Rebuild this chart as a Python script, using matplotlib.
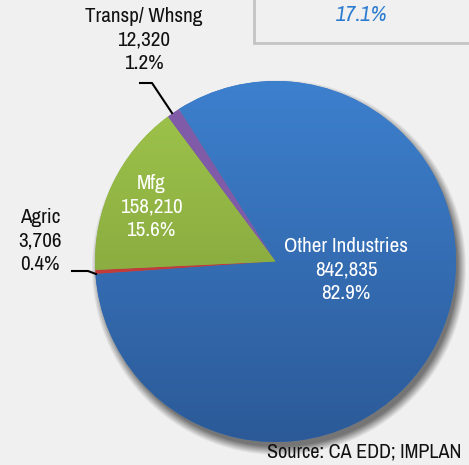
import numpy as np
import matplotlib
matplotlib.use("Agg")
import matplotlib.pyplot as plt
from matplotlib.colors import LinearSegmentedColormap
from matplotlib.patches import Rectangle

plt.rcParams['font.family'] = ['Archivo Narrow', 'Roboto Condensed', 'DejaVu Sans']

# employment by industry
industries = ["Other Industries", "Transp/ Whsng", "Mfg", "Agric"]
jobs = [842835, 12320, 158210, 3706]
shares = ["82.9%", "1.2%", "15.6%", "0.4%"]
highlight = "17.1%"
source = "Source: CA EDD; IMPLAN"

W, H = 469, 465
BG = "#f0f0f0"

fig = plt.figure(figsize=(W / 100, H / 100), dpi=100, facecolor=BG)
ax = fig.add_axes([0, 0, 1, 1])

cx, cy, r = 275.5, H - 261.5, 180.5

# soft drop shadow under the pie
yy, xx = np.mgrid[0:H, 0:W]
d = np.hypot(xx - (cx + 3), (H - yy) - (cy - 6))
a = np.clip((r + 7 - d) / 9.0, 0, 1) * 0.75
shadow = np.zeros((H, W, 4))
shadow[..., :3] = 0.3
shadow[..., 3] = a
ax.imshow(shadow, extent=[0, W, 0, H], zorder=1, interpolation="bilinear")

wedges, _ = ax.pie(jobs, center=(cx, cy), radius=r, startangle=184,
                   counterclock=True, frame=True,
                   colors=["#3577c2", "#7f5ba8", "#8db544", "#c23b3b"],
                   wedgeprops=dict(linewidth=0))
ax.set_xlim(0, W)
ax.set_ylim(0, H)
ax.set_aspect("equal")
ax.axis("off")
for w in wedges:
    w.set_zorder(2)

# vertical gradients for the two big slices
grad = np.linspace(0, 1, 256).reshape(-1, 1)
fills = {0: ("#3d80ce", "#2c5a98"), 2: ("#a0c64c", "#789637")}
for i, (top, bottom) in fills.items():
    cmap = LinearSegmentedColormap.from_list("g%d" % i, [top, bottom])
    im = ax.imshow(grad, cmap=cmap, aspect="auto", zorder=3,
                   extent=[cx - r, cx + r, cy - r, cy + r], origin="upper")
    im.set_clip_path(wedges[i])


def label(i, x, y, color):
    ax.text(x, y, "%s\n%s\n%s" % (industries[i], f"{jobs[i]:,}", shares[i]),
            color=color, fontsize=15.2, ha="center", va="center",
            linespacing=1.32, zorder=5)


label(0, 346, H - 270, "white")
label(2, 151, H - 207, "white")
label(1, 144, H - 40, "#111111")
label(3, 40, H - 241, "#111111")

# leader lines
ax.plot([140, 152, 172], [H - 83, H - 83, H - 113], color="black", lw=1.5, zorder=6)
ax.plot([72, 88, 96], [H - 271, H - 271, H - 274], color="black", lw=1.5, zorder=6)

# callout box at the top
ax.add_patch(Rectangle((254, H - 43), 260, 60, facecolor=BG, edgecolor="#c4c4c4",
                       lw=2, zorder=4, clip_on=False))
ax.text(362, H - 15, highlight, color="#2a7bd0", fontsize=16, style="italic",
        ha="center", va="center", zorder=5)

ax.text(461, H - 452, source, color="#111111", fontsize=14.5, ha="right",
        va="center", zorder=5)

fig.savefig("out.png", dpi=100, facecolor=BG)
